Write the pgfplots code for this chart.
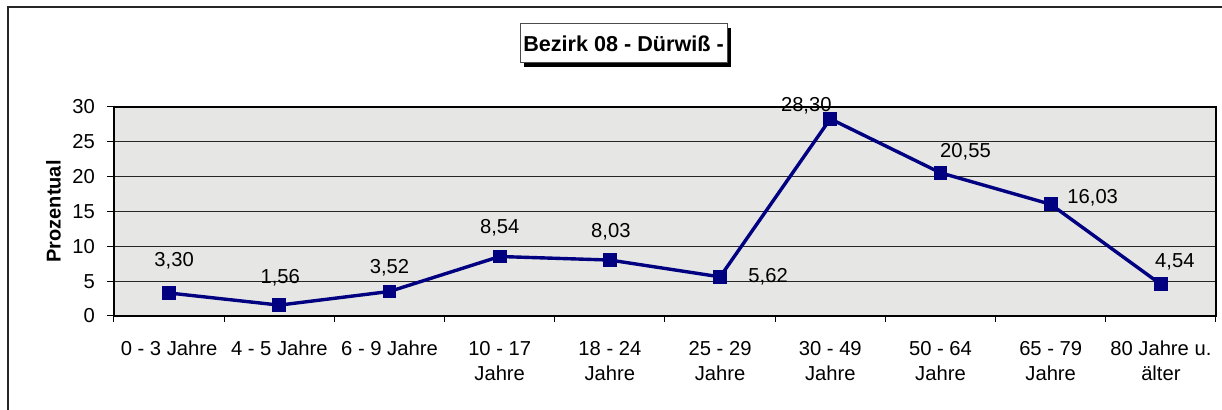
\documentclass[border=0pt]{standalone}
\usepackage{pgfplots}
\pgfplotsset{compat=1.18}
\usepackage{pgfplotstable}
\usepackage{fontspec}
\setmainfont{Liberation Sans}
\usetikzlibrary{shadows}
\definecolor{linecol}{RGB}{0,0,128}
\definecolor{bgcol}{RGB}{230,230,228}
\pgfplotstableread{
x y dx dy
0 3.30 2.5 16
1 1.56 0.5 13.5
2 3.52 0 12
3 8.54 0 14.5
4 8.03 0.5 14
5 5.62 24 0
6 28.30 -12 6.5
7 20.55 12.5 10.5
8 16.03 21 3.5
9 4.54 7 11.5
}\datatable
\begin{document}
\begin{tikzpicture}
\useasboundingbox (0pt,-205pt) rectangle (611pt,0pt);
\draw[line width=0.8pt, black!85] (4pt,-215pt) -- (4pt,-3.5pt) -- (620pt,-3.5pt);
\begin{axis}[
  at={(57pt,-158pt)}, anchor=south west,
  scale only axis, width=551pt, height=104.5pt,
  xmin=-0.5, xmax=9.5, ymin=0, ymax=30,
  ytick={0,5,...,30},
  xtick={0,...,9},
  xticklabels={{0 - 3 Jahre},{4 - 5 Jahre},{6 - 9 Jahre},{10 - 17\\Jahre},{18 - 24\\Jahre},{25 - 29\\Jahre},{30 - 49\\Jahre},{50 - 64\\Jahre},{65 - 79\\Jahre},{80 Jahre u.\\älter}},
  minor xtick={-0.5,0.5,...,9.5},
  tick align=outside,
  major tick length=3.5pt, minor tick length=3pt,
  major x tick style={draw=none},
  tick style={black, line width=0.5pt},
  minor tick style={black, line width=0.5pt},
  xtick pos=bottom, ytick pos=left,
  ymajorgrids, grid style={black!85, line width=0.5pt},
  axis background/.style={fill=bgcol},
  axis line style={black, line width=1pt},
  /pgf/number format/assume math mode=true,
  tick label style={font=\fontsize{10.1}{12.5}\selectfont, text=black},
  xticklabel style={align=center, yshift=-5.5pt},
  yticklabel style={xshift=-2.5pt},
  ylabel={Prozentual},
  ylabel style={at={(axis description cs:-0.055,0.5)}, anchor=center, font=\bfseries\fontsize{10}{12}\selectfont},
  clip=false,
]
\addplot[color=linecol, line width=1.7pt, mark=square*, mark size=3.2pt,
  mark options={fill=linecol, draw=linecol, line width=0pt},
  visualization depends on={\thisrow{dx}\as\lblx},
  visualization depends on={\thisrow{dy}\as\lbly},
  nodes near coords={\pgfmathprintnumber[fixed,fixed zerofill,precision=2,use comma,assume math mode=true]{\pgfplotspointmeta}},
  every node near coord/.append style={anchor=center, xshift=\lblx pt, yshift=\lbly pt, text=black, font=\fontsize{10.1}{12}\selectfont},
] table[x=x, y=y] {\datatable};
\end{axis}
\node[draw=black!70, line width=0.5pt, fill=white, minimum width=103.5pt, minimum height=19.5pt, inner sep=1pt,
  drop shadow={shadow xshift=2.2pt, shadow yshift=-2.2pt, fill=black, opacity=1},
  font=\bfseries\fontsize{10.8}{13}\selectfont] at (311.75pt,-21.75pt) {Bezirk 08 - Dürwiß -};
\end{tikzpicture}
\end{document}
